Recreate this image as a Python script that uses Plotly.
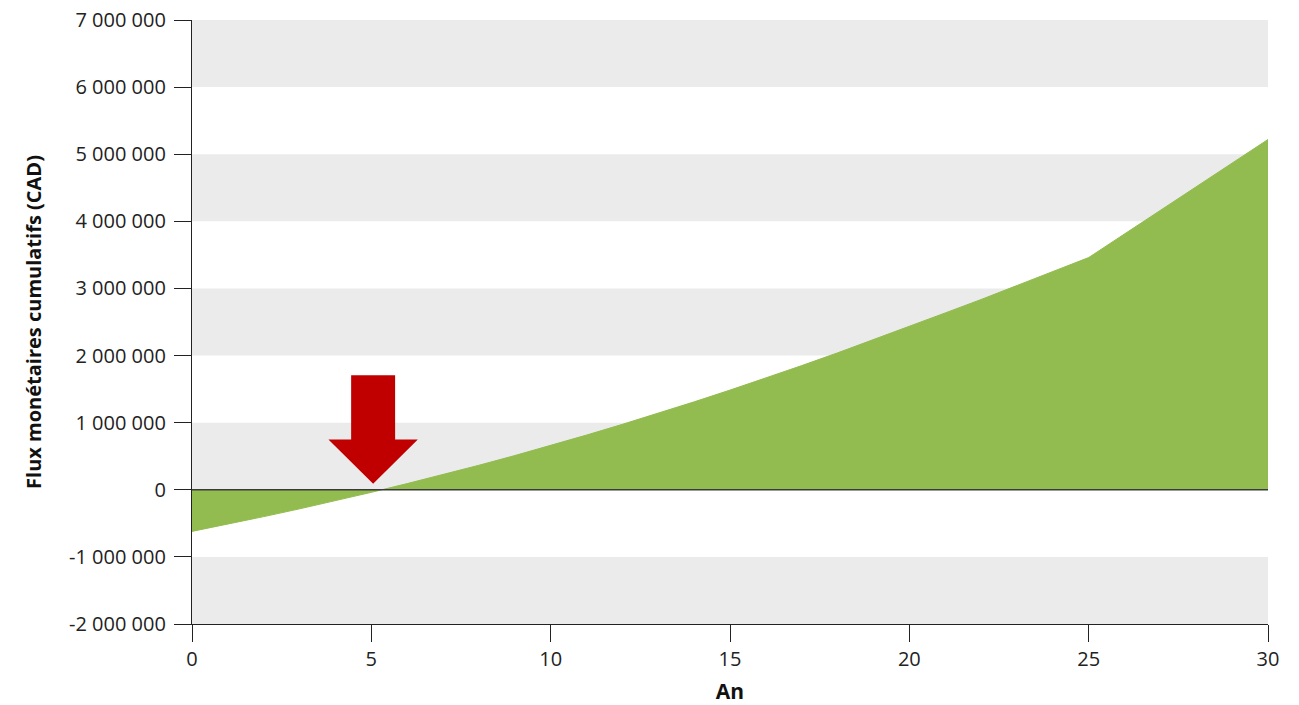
import plotly.graph_objects as go

# Cumulative cash flow by year (CAD)
years = [0, 1, 2, 3, 4, 5, 6, 7, 8, 9, 10, 11, 12, 13, 14, 15, 16, 17, 18, 19,
         20, 21, 22, 23, 24, 25, 30]
cumulative_cad = [-620000, -512000, -400000, -284000, -163000, -38000, 92000,
                  226000, 365000, 510000, 660000, 815000, 975000, 1140000,
                  1310000, 1485000, 1665000, 1850000, 2040000, 2235000,
                  2440000, 2635000, 2835000, 3040000, 3248000, 3460000,
                  5220000]

y_tick_vals = [-2000000, -1000000, 0, 1000000, 2000000, 3000000, 4000000,
               5000000, 6000000, 7000000]
y_tick_text = ["-2 000 000", "-1 000 000", "0", "1 000 000", "2 000 000",
               "3 000 000", "4 000 000", "5 000 000", "6 000 000", "7 000 000"]
x_tick_vals = [0, 5, 10, 15, 20, 25, 30]

# Break-even marker (arrow pointing down at the zero crossing)
breakeven_year = 5.05
arrow_tip = 90000
arrow_head_base = 748000
arrow_top = 1708000
shaft_half = 0.613
head_half = 1.246

GREEN = "#92BC4F"
BAND = "#EBEBEB"
FONT = "Open Sans, Noto Sans, sans-serif"

fig = go.Figure()
fig.add_trace(go.Scatter(
    x=years, y=cumulative_cad, mode="lines", fill="tozeroy",
    line=dict(color=GREEN, width=1), fillcolor=GREEN, hoverinfo="skip",
    showlegend=False,
))

shapes = []
# alternating horizontal bands
for i in range(0, len(y_tick_vals) - 1):
    if i % 2 == 0:
        shapes.append(dict(type="rect", xref="x", yref="y", x0=0, x1=30,
                           y0=y_tick_vals[i], y1=y_tick_vals[i + 1],
                           fillcolor=BAND, line=dict(width=0), layer="below"))
# zero line over the area
shapes.append(dict(type="line", xref="x", yref="y", x0=0, x1=30, y0=0, y1=0,
                   line=dict(color="#3a3a3a", width=1.6), layer="above"))
# arrow
cx = breakeven_year
path = (f"M {cx - shaft_half},{arrow_top} L {cx + shaft_half},{arrow_top} "
        f"L {cx + shaft_half},{arrow_head_base} L {cx + head_half},{arrow_head_base} "
        f"L {cx},{arrow_tip} L {cx - head_half},{arrow_head_base} "
        f"L {cx - shaft_half},{arrow_head_base} Z")
shapes.append(dict(type="path", xref="x", yref="y", path=path,
                   fillcolor="#C00000", line=dict(width=0), layer="above"))

fig.update_layout(
    width=1299, height=705,
    margin=dict(l=192, r=31, t=20, b=81),
    plot_bgcolor="white", paper_bgcolor="white",
    font=dict(family=FONT, size=20, color="#222222"),
    shapes=shapes,
    showlegend=False,
)

fig.update_xaxes(
    range=[0, 30], tickvals=x_tick_vals, ticks="outside", ticklen=17,
    tickwidth=1.2, tickcolor="#222222", showline=True, linecolor="#222222",
    linewidth=1.2, showgrid=False, zeroline=False, fixedrange=True,
    tickfont=dict(size=20, color="#222222"),
    title=dict(text="<b>An</b>", font=dict(size=21, color="#111111"),
               standoff=16),
    automargin=False,
)
fig.update_yaxes(
    range=[-2000000, 7000000], tickvals=y_tick_vals, ticktext=y_tick_text,
    ticks="outside", ticklen=17, tickwidth=1.2, tickcolor="#222222",
    showline=True, linecolor="#222222", linewidth=1.2, showgrid=False,
    zeroline=False, fixedrange=True, ticklabelstandoff=4,
    tickfont=dict(size=20, color="#222222"),
    title=dict(text="<b>Flux monétaires cumulatifs (CAD)</b>",
               font=dict(size=20, color="#111111"), standoff=22),
    automargin=False,
)

fig.write_html("out.html")
